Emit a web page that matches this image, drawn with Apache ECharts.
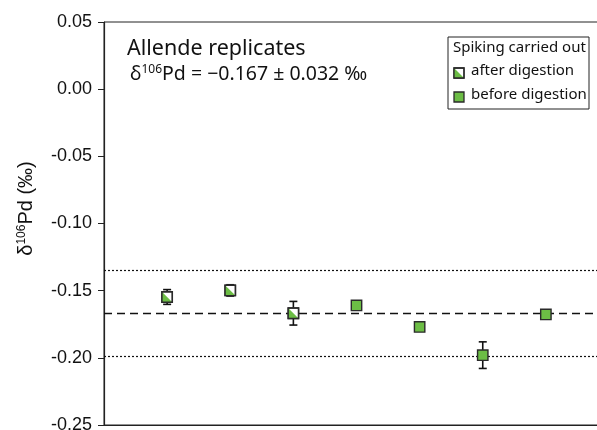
<!DOCTYPE html>
<html><head><meta charset="utf-8">
<script src="https://cdn.jsdelivr.net/npm/echarts@6/dist/echarts.min.js"></script>
<style>html,body{margin:0;padding:0;background:#fff}#c{width:597px;height:430px}</style>
</head><body><div id="c"></div>
<script>
// ---- data ----
const replicate = [1, 2, 3, 4, 5, 6, 7];
const delta106Pd = [-0.1547, -0.1498, -0.1668, -0.161, -0.177, -0.198, -0.1677];
const err2sd = [0.0055, 0.0042, 0.0088, 0, 0, 0.0099, 0];
const spiking = ['after', 'after', 'after', 'before', 'before', 'before', 'before'];
const meanValue = -0.167;
const bandValues = [-0.135, -0.199];
const yTicks = [-0.25, 0.05, 0.05]; // min, max, interval

const GREEN = '#6cbd45';
const EDGE = '#2a2a2a';

const seriesData = replicate.map((x, i) => [x, delta106Pd[i], err2sd[i], spiking[i] === 'after' ? 1 : 0]);

function renderItem(params, api) {
  const x = api.value(0), y = api.value(1), e = api.value(2), after = api.value(3);
  const c = api.coord([x, y]);
  const ch = [];
  if (e > 0) {
    const t = api.coord([x, y + e]), b = api.coord([x, y - e]);
    const cap = 4;
    const ls = { stroke: '#111', lineWidth: 1.6 };
    ch.push({ type: 'line', shape: { x1: c[0], y1: t[1], x2: c[0], y2: b[1] }, style: ls });
    ch.push({ type: 'line', shape: { x1: c[0] - cap, y1: t[1], x2: c[0] + cap, y2: t[1] }, style: ls });
    ch.push({ type: 'line', shape: { x1: c[0] - cap, y1: b[1], x2: c[0] + cap, y2: b[1] }, style: ls });
  }
  const h = 5.2;
  ch.push({ type: 'rect', shape: { x: c[0] - h, y: c[1] - h, width: 2 * h, height: 2 * h },
    style: { fill: after ? '#fff' : GREEN, stroke: EDGE, lineWidth: 1.4 } });
  if (after) {
    ch.push({ type: 'polygon', shape: { points: [[c[0] - h, c[1] - h], [c[0] - h, c[1] + h], [c[0] + h, c[1] + h]] },
      style: { fill: GREEN } });
    ch.push({ type: 'rect', shape: { x: c[0] - h, y: c[1] - h, width: 2 * h, height: 2 * h },
      style: { fill: 'none', stroke: EDGE, lineWidth: 1.4 } });
  }
  return { type: 'group', children: ch };
}

const chart = echarts.init(document.getElementById('c'), null, { renderer: 'canvas' });
const legendX = 448, legendY = 37;
chart.setOption({
  animation: false,
  grid: { left: 104, top: 22, width: 505, height: 403, outerBoundsMode: 'none', containLabel: false,
    show: true, borderColor: '#222', borderWidth: 1, backgroundColor: 'transparent' },
  xAxis: { type: 'value', min: 0, max: 8, axisLine: { show: true, onZero: false, lineStyle: { color: '#222', width: 1.2 } },
    axisTick: { show: false }, axisLabel: { show: false }, splitLine: { show: false } },
  yAxis: { type: 'value', min: yTicks[0], max: yTicks[1], interval: yTicks[2],
    axisLine: { show: true, onZero: false, lineStyle: { color: '#222', width: 1.2 } },
    axisTick: { show: true, inside: false, length: 6, lineStyle: { color: '#222' } },
    splitLine: { show: false },
    axisLabel: { formatter: v => v.toFixed(2), fontFamily: 'Liberation Sans', fontSize: 18, color: '#111', margin: 12 },
    name: '{d|δ}{s|106}{d|Pd (‰)}', nameLocation: 'middle', nameGap: 68, nameRotate: 90,
    nameTextStyle: { padding: [0, 0, 0, 30], rich: { d: { fontFamily: 'Liberation Sans', fontSize: 20, color: '#111' },
      s: { fontFamily: 'Liberation Sans', fontSize: 12, color: '#111', verticalAlign: 'top', padding: [0, 0, 8, 0] } } } },
  series: [{
    type: 'custom', renderItem, data: seriesData, z: 5,
    encode: { x: 0, y: 1 },
    markLine: {
      silent: true, symbol: 'none', label: { show: false }, precision: 4,
      data: [
        { yAxis: meanValue, lineStyle: { type: [8, 5], color: '#111', width: 1.4 } },
        { yAxis: bandValues[0], lineStyle: { type: [2, 2], color: '#111', width: 1.2 } },
        { yAxis: bandValues[1], lineStyle: { type: [2, 2], color: '#111', width: 1.2 } }
      ]
    }
  }],
  graphic: [
    { type: 'text', x: 127, y: 38, style: { text: 'Allende replicates', font: '21.5px "Noto Sans"', fill: '#111' } },
    { type: 'text', x: 130, y: 64, style: { text: '{d|δ}{s|106}{d|Pd = −0.167 ± 0.032 ‰}', fill: '#111',
      rich: { d: { font: '19.5px "Noto Sans"', fill: '#111' }, s: { font: '12px "Noto Sans"', fill: '#111', verticalAlign: 'top', padding: [0, 0, 7, 0] } } } },
    { type: 'rect', shape: { x: legendX, y: legendY, width: 141, height: 72 }, style: { fill: '#fff', stroke: '#222', lineWidth: 1 }, z: 10 },
    { type: 'text', x: legendX + 5, y: legendY + 3, style: { text: 'Spiking carried out', font: '15px "Noto Sans"', fill: '#111' }, z: 11 },
    { type: 'rect', shape: { x: legendX + 6, y: legendY + 31, width: 10, height: 10 }, style: { fill: '#fff', stroke: EDGE, lineWidth: 1.3 }, z: 11 },
    { type: 'polygon', shape: { points: [[legendX + 6, legendY + 31], [legendX + 6, legendY + 41], [legendX + 16, legendY + 41]] }, style: { fill: GREEN }, z: 12 },
    { type: 'rect', shape: { x: legendX + 6, y: legendY + 31, width: 10, height: 10 }, style: { fill: 'none', stroke: EDGE, lineWidth: 1.3 }, z: 13 },
    { type: 'text', x: legendX + 23, y: legendY + 26, style: { text: 'after digestion', font: '15px "Noto Sans"', fill: '#111' }, z: 11 },
    { type: 'rect', shape: { x: legendX + 6, y: legendY + 55, width: 10, height: 10 }, style: { fill: GREEN, stroke: EDGE, lineWidth: 1.3 }, z: 11 },
    { type: 'text', x: legendX + 23, y: legendY + 50, style: { text: 'before digestion', font: '15px "Noto Sans"', fill: '#111' }, z: 11 }
  ]
});
</script></body></html>
